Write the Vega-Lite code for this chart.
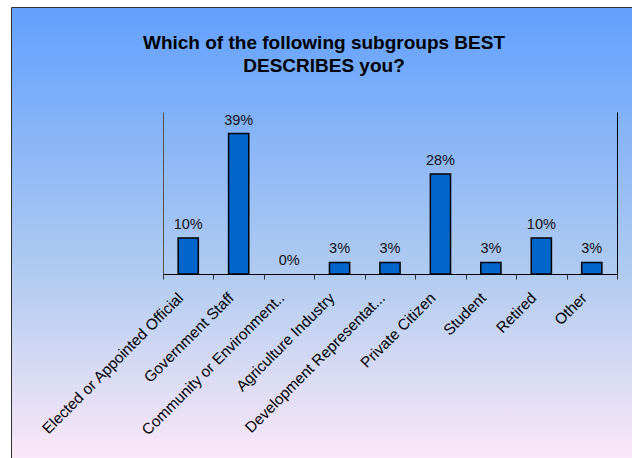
{
  "$schema": "https://vega.github.io/schema/vega-lite/v6.json",
  "width": 622,
  "height": 452,
  "autosize": {"type": "none"},
  "padding": {"left": 11, "top": 7, "right": 0, "bottom": 0},
  "background": "white",
  "config": {
    "font": "Liberation Sans",
    "view": {
      "fill": {
        "gradient": "linear",
        "x1": 0, "y1": 0, "x2": 0, "y2": 1,
        "stops": [
          {"offset": 0, "color": "#62A0FE"},
          {"offset": 0.6, "color": "#B2CCF0"},
          {"offset": 1, "color": "#FCE8F8"}
        ]
      },
      "stroke": "#333",
      "strokeWidth": 1
    }
  },
  "title": {
    "text": ["Which of the following subgroups BEST", "DESCRIBES you?"],
    "font": "Liberation Sans",
    "fontSize": 19,
    "fontWeight": "bold",
    "color": "#000",
    "anchor": "middle",
    "frame": "group",
    "baseline": "top",
    "offset": 0,
    "dy": 69,
    "dx": 2,
    "lineHeight": 23.5
  },
  "data": {
    "values": [
      {"group": "Elected or Appointed Official", "pct": 0.10},
      {"group": "Government Staff", "pct": 0.39},
      {"group": "Community or Environment..", "pct": 0.0},
      {"group": "Agriculture Industry", "pct": 0.032},
      {"group": "Development Representat...", "pct": 0.032},
      {"group": "Private Citizen", "pct": 0.278},
      {"group": "Student", "pct": 0.032},
      {"group": "Retired", "pct": 0.10},
      {"group": "Other", "pct": 0.032}
    ]
  },
  "encoding": {
    "x": {
      "field": "group",
      "type": "nominal",
      "sort": null,
      "scale": {"range": [152, 606], "paddingInner": 0, "paddingOuter": 0},
      "axis": {
        "title": null,
        "orient": "bottom",
        "offset": -185,
        "domainColor": "#000",
        "tickColor": "#333",
        "tickSize": 5,
        "tickBand": "extent",
        "labelAngle": -45,
        "labelAlign": "right",
        "labelBaseline": "middle",
        "labelPadding": 16,
        "labelOffset": -8,
        "labelFont": "Liberation Sans",
        "labelFontSize": 15.3,
        "labelColor": "#000",
        "labelLimit": 0
      }
    },
    "y": {
      "field": "pct",
      "type": "quantitative",
      "scale": {"domain": [0, 0.45], "range": [267, 105], "nice": false}
    }
  },
  "layer": [
    {
      "mark": {"type": "bar", "width": {"band": 0.4}, "fill": "#0066CC", "stroke": "#000", "strokeWidth": 1.5},
      "encoding": {
        "y": {
          "field": "pct",
          "type": "quantitative",
          "axis": {"orient": "left", "offset": -152, "domainColor": "#555", "ticks": false, "labels": false, "grid": false, "title": null}
        },
        "strokeOpacity": {"condition": {"test": "datum.pct > 0", "value": 1}, "value": 0}
      }
    },
    {
      "mark": {"type": "text", "dy": -9, "baseline": "alphabetic", "font": "Liberation Sans", "fontSize": 14.5, "color": "#111"},
      "encoding": {
        "y": {
          "field": "pct",
          "type": "quantitative",
          "axis": {"orient": "right", "offset": -16, "domainColor": "#000", "ticks": false, "labels": false, "grid": false, "title": null}
        },
        "text": {"field": "pct", "type": "quantitative", "format": ".0%"}
      }
    }
  ],
  "resolve": {"axis": {"y": "independent"}}
}
